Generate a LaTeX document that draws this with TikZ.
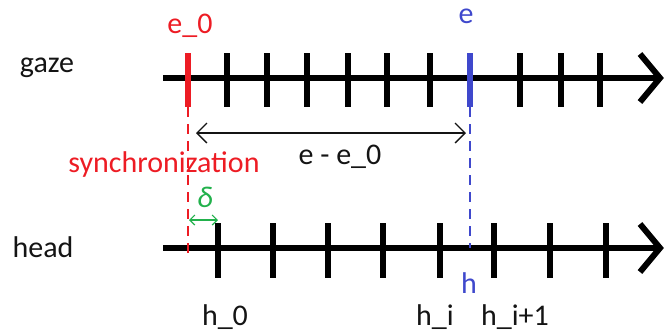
\documentclass[tikz,border=0pt]{standalone}
\usepackage{fontspec}
\setmainfont{Carlito}
\usetikzlibrary{arrows.meta}
\definecolor{myred}{RGB}{237,28,36}
\definecolor{myblue}{RGB}{63,72,204}
\definecolor{mygreen}{RGB}{34,177,76}
\definecolor{ink}{RGB}{20,20,20}
\begin{document}
\begin{tikzpicture}[x=1pt,y=-1pt,
  lbl/.style={font=\fontsize{30}{32}\selectfont, anchor=base, inner sep=0pt, text=ink},
  axisline/.style={line width=6pt, black},
  chev/.style={line width=6pt, black, line join=miter},
  tickmark/.style={line width=6pt, black},
  guide/.style={line width=1.5pt, dash pattern=on 10pt off 7pt},
  barb/.style={{Straight Barb[length=10pt,width=20pt]}-{Straight Barb[length=10pt,width=20pt]}},
  smallbarb/.style={{Straight Barb[length=5pt,width=10pt]}-{Straight Barb[length=5pt,width=10pt]}}]
\useasboundingbox (0,0) rectangle (665,333);
% gaze axis
\coordinate (gs) at (163,78);
\coordinate (ge) at (660,78);
\draw[axisline] (gs) -- (ge);
\draw[chev] (640,54) -- (ge) -- (640,102);
\foreach \x in {227,267,307,348,387,430,520,561,600}
  \draw[tickmark] (\x,53) -- (\x,107);
\coordinate (e0t) at (188,53);
\coordinate (e0b) at (188,107);
\coordinate (et) at (470,53);
\coordinate (eb) at (470,107);
\draw[tickmark, myred] (e0t) -- (e0b);
\draw[tickmark, myblue] (et) -- (eb);
% head axis
\coordinate (hs) at (163,248);
\coordinate (he) at (660,248);
\draw[axisline] (hs) -- (he);
\draw[chev] (640,224) -- (he) -- (640,272);
\foreach \x in {218,273,328,383,440,494,550,606}
  \draw[tickmark] (\x,223) -- (\x,278);
% guides
\coordinate (syncend) at (188,254);
\coordinate (hpt) at (470,248);
\draw[guide, myred] (e0b) -- (syncend);
\draw[guide, myblue] (eb) -- (hpt);
% e - e_0 arrow
\coordinate (da) at (196,133);
\coordinate (db) at (466,133);
\draw[barb, line width=1.3pt, ink] (da) -- (db);
% delta arrow
\coordinate (ga) at (189,220);
\coordinate (gb) at (218,220);
\draw[smallbarb, line width=1.2pt, mygreen] (ga) -- (gb);
% labels
\node[lbl, text=myred] (le0) at (190,33) {e\_0};
\node[lbl, text=myblue] (le) at (466,23) {e};
\node[lbl] (lgaze) at (47,72) {gaze};
\node[lbl, text=myred] (lsync) at (164,172) {synchronization};
\node[lbl] (ldiff) at (340,164) {e - e\_0};
\node[lbl, text=mygreen] (ldelta) at (205,207) {\itshape δ};
\node[lbl] (lhead) at (43,257) {head};
\node[lbl, text=myblue] (lh) at (469,293) {h};
\node[lbl] (lh0) at (225,325) {h\_0};
\node[lbl] (lhi) at (435,325) {h\_i};
\node[lbl] (lhi1) at (515,325) {h\_i+1};
\end{tikzpicture}
\end{document}
